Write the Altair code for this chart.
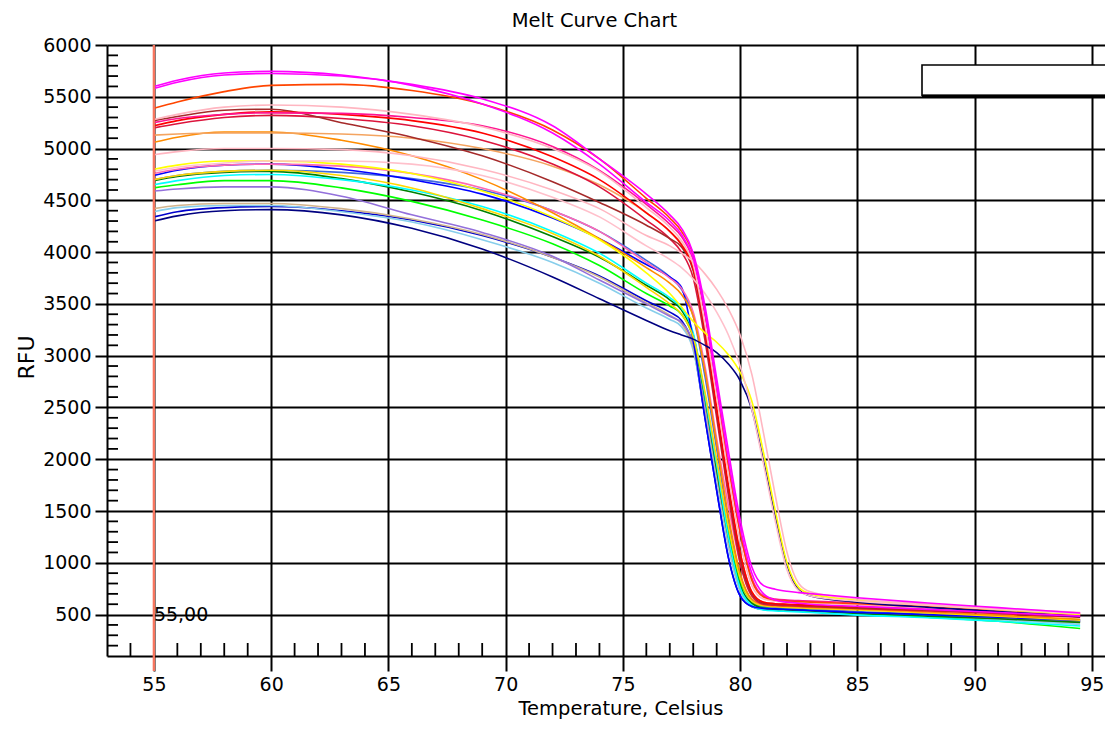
import altair as alt
import pandas as pd

TITLE = "Melt Curve Chart"
X_TITLE = "Temperature, Celsius"
Y_TITLE = "RFU"
CURSOR_LABEL = "55,00"
CURSOR_T = 55
CURSOR_RFU = 500

X_TICKS = [55, 60, 65, 70, 75, 80, 85, 90, 95]
Y_TICKS = [500, 1000, 1500, 2000, 2500, 3000, 3500, 4000, 4500, 5000, 5500, 6000]
X_MINOR = [t for t in range(54, 96) if t % 5 != 0]
Y_MINOR = [v for v in range(200, 6000, 100) if v % 500 != 0]

TEMPS = [55, 56, 58, 60, 63, 66, 69, 72, 74, 76, 77, 77.5, 78, 78.5, 79, 79.5,
         80, 80.5, 81, 81.5, 82, 82.5, 83, 85, 88, 91, 94.5]

MEDIUMBLUE = [4340, 4390, 4430, 4440, 4400, 4310, 4160, 3950, 3770, 3530, 3420, 3340, 3080, 2400, 1700, 1050, 680, 575, 550, 545, 540, 535, 530, 505, 485, 465, 435]
SKYBLUE = [4390, 4430, 4450, 4450, 4390, 4290, 4120, 3900, 3700, 3460, 3350, 3280, 3050, 2450, 1800, 1150, 720, 580, 550, 545, 540, 535, 530, 500, 475, 450, 405]
TAN = [4420, 4450, 4470, 4470, 4420, 4320, 4170, 3950, 3760, 3510, 3390, 3310, 3080, 2500, 1850, 1200, 750, 600, 560, 555, 550, 545, 540, 515, 490, 465, 425]
PURPLE = [4590, 4610, 4630, 4630, 4540, 4360, 4190, 3960, 3730, 3500, 3380, 3320, 3120, 2550, 1900, 1250, 780, 610, 565, 555, 550, 545, 540, 515, 490, 465, 430]
LIME = [4620, 4650, 4690, 4690, 4620, 4490, 4310, 4080, 3870, 3600, 3480, 3400, 3170, 2600, 1950, 1300, 820, 630, 570, 560, 555, 550, 545, 510, 475, 435, 365]
GREEN = [4690, 4730, 4770, 4780, 4710, 4580, 4400, 4150, 3950, 3680, 3540, 3440, 3200, 2600, 1900, 1250, 780, 610, 560, 550, 545, 540, 535, 510, 485, 460, 425]
CYAN = [4650, 4690, 4740, 4750, 4700, 4600, 4440, 4200, 3990, 3700, 3560, 3460, 3220, 2620, 1950, 1250, 760, 590, 545, 535, 530, 525, 520, 495, 470, 435, 390]
ROYALBLUE = [4700, 4740, 4780, 4790, 4770, 4710, 4600, 4400, 4200, 3920, 3760, 3640, 3380, 2800, 2100, 1400, 880, 640, 580, 570, 565, 560, 555, 530, 505, 480, 450]
BLUE = [4740, 4790, 4840, 4850, 4800, 4700, 4560, 4330, 4130, 3880, 3760, 3660, 3150, 2400, 1700, 1050, 680, 580, 560, 555, 550, 545, 540, 520, 500, 475, 445]
GOLD = [4700, 4740, 4780, 4790, 4740, 4620, 4420, 4180, 3960, 3660, 3500, 3400, 3180, 2650, 2000, 1350, 850, 630, 585, 575, 570, 565, 560, 545, 515, 485, 445]
HOTPINK = [4760, 4800, 4840, 4850, 4830, 4760, 4620, 4400, 4200, 3900, 3750, 3650, 3420, 2900, 2200, 1550, 1000, 700, 620, 605, 595, 590, 585, 570, 545, 515, 480]
DARKORANGE = [5060, 5110, 5160, 5160, 5080, 4930, 4700, 4380, 4130, 3850, 3700, 3590, 3380, 2850, 2150, 1450, 900, 650, 595, 585, 580, 575, 570, 555, 525, 495, 455]
SANDY = [5130, 5140, 5150, 5150, 5140, 5100, 5000, 4830, 4650, 4380, 4200, 4080, 3850, 3250, 2500, 1750, 1100, 720, 620, 605, 600, 595, 590, 570, 545, 515, 480]
CRIMSON = [5200, 5240, 5300, 5320, 5290, 5220, 5080, 4850, 4630, 4310, 4130, 4000, 3750, 3150, 2400, 1650, 1000, 680, 600, 590, 585, 580, 575, 560, 535, 510, 475]
BROWN = [5270, 5310, 5370, 5380, 5250, 5110, 4930, 4680, 4480, 4260, 4130, 4050, 3820, 3200, 2450, 1700, 1050, 700, 610, 600, 595, 590, 585, 565, 545, 520, 485]
RED = [5220, 5270, 5330, 5355, 5330, 5270, 5150, 4920, 4700, 4380, 4200, 4070, 3840, 3250, 2500, 1750, 1100, 720, 620, 605, 600, 595, 590, 575, 550, 525, 495]
DEEPPINK = [5250, 5290, 5330, 5345, 5340, 5300, 5220, 5020, 4790, 4460, 4270, 4150, 3920, 3400, 2700, 1950, 1300, 850, 680, 650, 640, 635, 630, 615, 585, 555, 515]
PINK_TOP = [5280, 5330, 5400, 5420, 5400, 5330, 5210, 5000, 4780, 4430, 4240, 4110, 3880, 3300, 2600, 1850, 1200, 780, 650, 630, 620, 615, 610, 595, 565, 535, 505]
ORANGERED = [5390, 5450, 5550, 5610, 5620, 5560, 5430, 5180, 4900, 4520, 4330, 4200, 3970, 3420, 2700, 1950, 1300, 830, 670, 640, 630, 625, 620, 605, 575, 545, 505]
NAVY_LATE = [4300, 4350, 4400, 4410, 4360, 4230, 4030, 3760, 3550, 3340, 3240, 3200, 3160, 3100, 3030, 2920, 2760, 2480, 1980, 1450, 980, 740, 680, 620, 570, 530, 480]
YELLOW_LATE = [4800, 4840, 4880, 4880, 4850, 4760, 4590, 4340, 4120, 3800, 3600, 3470, 3330, 3220, 3130, 3010, 2840, 2560, 2060, 1500, 1000, 760, 700, 640, 590, 550, 500]
PINK_LATE_B = [4780, 4820, 4860, 4880, 4880, 4850, 4740, 4530, 4340, 4060, 3930, 3850, 3740, 3600, 3420, 3200, 2900, 2480, 1950, 1400, 930, 730, 680, 630, 590, 550, 510]
PINK_LATE_A = [4940, 4970, 5000, 5000, 4990, 4930, 4800, 4600, 4420, 4160, 4060, 3990, 3910, 3790, 3640, 3450, 3200, 2820, 2250, 1650, 1100, 800, 720, 650, 600, 560, 520]
MAGENTA_B = [5600, 5660, 5730, 5745, 5710, 5610, 5430, 5150, 4850, 4480, 4300, 4170, 3940, 3420, 2700, 2000, 1350, 900, 700, 640, 620, 610, 600, 580, 550, 520, 485]
MAGENTA_A = [5580, 5640, 5710, 5725, 5700, 5620, 5480, 5220, 4900, 4560, 4360, 4230, 3990, 3480, 2780, 2080, 1420, 960, 780, 745, 725, 712, 702, 662, 612, 567, 515]

SERIES_NAMES = ["mediumblue", "skyblue", "tan", "purple", "lime", "green", "cyan",
                "royalblue", "blue", "gold", "hotpink", "darkorange", "sandy",
                "crimson", "brown", "red", "deeppink", "pink_top", "orangered",
                "navy_late", "yellow_late", "pink_late_b", "pink_late_a",
                "magenta_b", "magenta_a"]
SERIES_VALUES = [MEDIUMBLUE, SKYBLUE, TAN, PURPLE, LIME, GREEN, CYAN, ROYALBLUE,
                 BLUE, GOLD, HOTPINK, DARKORANGE, SANDY, CRIMSON, BROWN, RED,
                 DEEPPINK, PINK_TOP, ORANGERED, NAVY_LATE, YELLOW_LATE,
                 PINK_LATE_B, PINK_LATE_A, MAGENTA_B, MAGENTA_A]
SERIES_COLORS = ["#0000cd", "#87ceeb", "#d2b48c", "#9370db", "#00ff00", "#008000",
                 "#00ffff", "#4169e1", "#0000ff", "#ffd700", "#ff69b4", "#ff8c00",
                 "#f4a460", "#dc143c", "#a52a2a", "#ff0000", "#ff1493", "#ffb6c1",
                 "#ff4500", "#000080", "#ffff00", "#ffc0cb", "#ffb6c1", "#ff00ff",
                 "#ff00ff"]

rows = []
for order, (name, vals) in enumerate(zip(SERIES_NAMES, SERIES_VALUES)):
    for t, v in zip(TEMPS, vals):
        rows.append({"series": name, "T": t, "RFU": v, "k": order})
df = pd.DataFrame(rows)

W, H = 998, 611
FONT = "DejaVu Sans"


def xenc():
    return alt.X("T:Q",
                 scale=alt.Scale(domain=[53, 95.56], nice=False, zero=False),
                 axis=alt.Axis(values=X_TICKS, format="d", title=X_TITLE,
                               tickSize=15, labelPadding=4,
                               titleX=513.5, titleY=58, titleAlign="center",
                               titleBaseline="alphabetic"))


def yenc():
    return alt.Y("RFU:Q",
                 scale=alt.Scale(domain=[100, 6000], nice=False, zero=False),
                 axis=alt.Axis(values=Y_TICKS, format="d", title=Y_TITLE,
                               tickSize=12, labelPadding=4,
                               titleAngle=270, titleX=-74, titleY=312,
                               titleAlign="center", titleBaseline="alphabetic",
                               titleFontSize=22))


lines = alt.Chart(df).mark_line(strokeWidth=1.6, interpolate="monotone").encode(
    x=xenc(), y=yenc(),
    color=alt.Color("series:N", scale=alt.Scale(domain=SERIES_NAMES, range=SERIES_COLORS), legend=None),
    detail="k:O",
)

minor_x = alt.Chart(pd.DataFrame({"T": X_MINOR})).mark_rule(color="black", strokeWidth=1.8).encode(
    x=xenc(), y=alt.value(H), y2=alt.value(H - 13))

minor_y = alt.Chart(pd.DataFrame({"RFU": Y_MINOR})).mark_rule(color="black", strokeWidth=1.8).encode(
    y=yenc(), x=alt.value(0), x2=alt.value(11))

cursor = alt.Chart(pd.DataFrame({"T": [CURSOR_T]})).mark_rule(color="#f7765f", strokeWidth=2.4).encode(
    x=xenc(), y=alt.value(0), y2=alt.value(H + 15))

cursor_label = alt.Chart(pd.DataFrame({"T": [CURSOR_T], "RFU": [CURSOR_RFU], "txt": [CURSOR_LABEL]})).mark_text(
    align="left", baseline="middle", font=FONT, fontSize=19, color="black", dx=0).encode(
    x=xenc(), y=yenc(), text="txt:N")

one = pd.DataFrame({"a": [0]})
box = alt.Chart(one).mark_rect(fill="white", stroke="black", strokeWidth=1.6).encode(
    x=alt.value(815), x2=alt.value(1020), y=alt.value(20), y2=alt.value(50.5))
box_shadow = alt.Chart(one).mark_rule(color="black", strokeWidth=3).encode(
    x=alt.value(815), x2=alt.value(1020), y=alt.value(51))

title = alt.Chart(pd.DataFrame({"txt": [TITLE]})).mark_text(
    align="center", baseline="alphabetic", font=FONT, fontSize=19.5, color="black").encode(
    x=alt.value(487.5), y=alt.value(-18), text="txt:N")

chart = alt.layer(lines, minor_x, minor_y, box, box_shadow, cursor, cursor_label, title).properties(
    width=W, height=H,
    autosize=alt.AutoSizeParams(type="none"),
    padding={"left": 99, "top": 37, "right": 0, "bottom": 63},
    background="white",
).configure_view(strokeWidth=0).configure_axis(
    labelFont=FONT, labelFontSize=19, labelColor="black", labelFlush=False,
    titleFont=FONT, titleFontSize=19.5, titleFontWeight="normal", titleColor="black",
    tickColor="black", tickWidth=2, domainColor="black", domainWidth=2,
    grid=True, gridColor="black", gridWidth=2, gridOpacity=1,
)

chart.save("out.html", embed_options={"renderer": "svg", "actions": False})
